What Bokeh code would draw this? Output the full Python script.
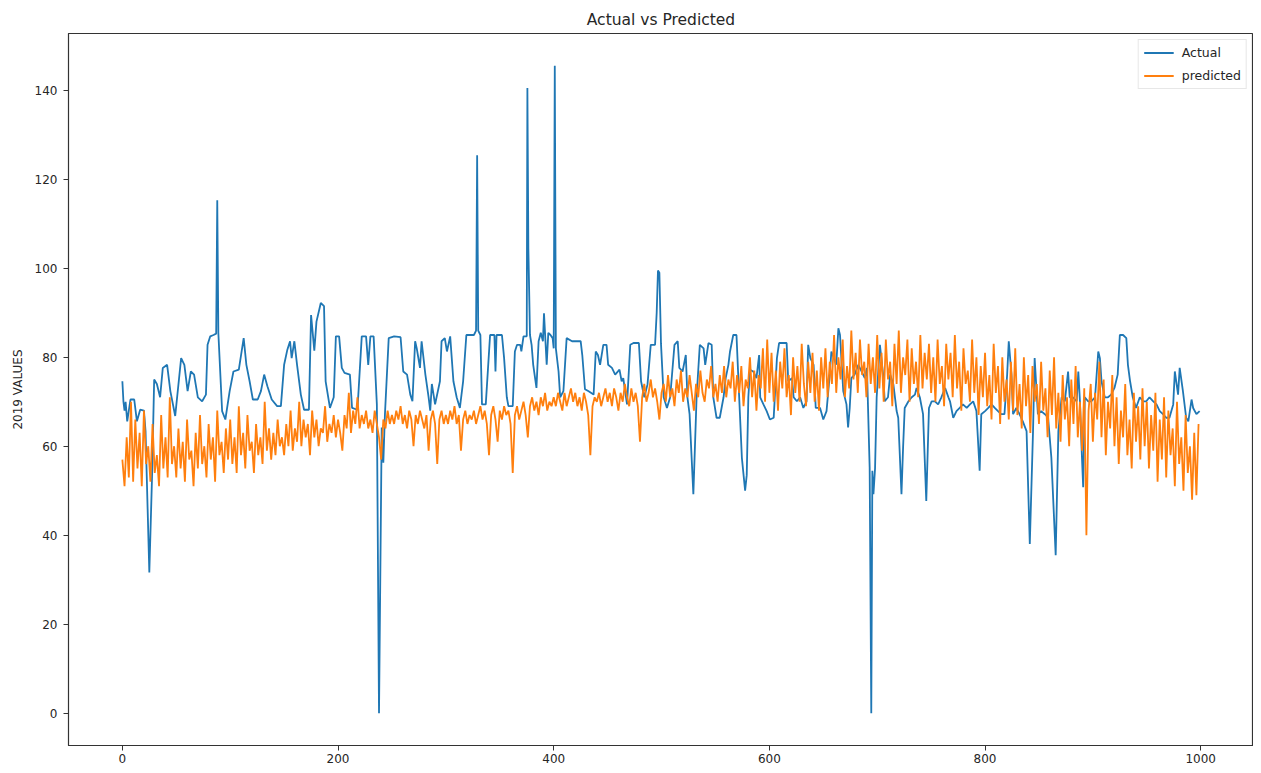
from bokeh.plotting import figure
from bokeh.models import Range1d, FixedTicker, Legend, LegendItem
from bokeh.embed import file_html
from bokeh.resources import INLINE

TITLE = "Actual vs Predicted"
Y_LABEL = "2019 VALUES"
SERIES_NAMES = ["Actual", "predicted"]
X_TICKS = [0, 200, 400, 600, 800, 1000]
Y_TICKS = [0, 20, 40, 60, 80, 100, 120, 140]

# Actual series: (index, value) vertices
actual = [
    (0, 74.6), (1, 70), (2, 68), (3, 70), (4.5, 65.6), (7.5, 70.5), (11, 70.5), (13.5, 65.6),
    (16.5, 68.2), (20, 68), (21.5, 63.4), (25, 31.6), (27.5, 53), (29.5, 75), (32, 74), (35, 71),
    (37.5, 77.6), (41.5, 78.3), (44.5, 72.4), (49, 66.8), (54.5, 79.8), (57.5, 78.3), (60.5, 72.4),
    (63.5, 76.8), (66.5, 76.1), (70, 71), (74, 70.1), (77.5, 71.6), (79, 82.8), (81.5, 84.7),
    (84.5, 85), (87, 85.3), (88, 115.3), (89, 85.5), (92.5, 67.9), (95.5, 66), (99.5, 72.4),
    (103, 76.8), (108, 77.2), (112.5, 84.3), (115, 78.3), (118, 74.6), (121, 70.5), (125.5, 70.5),
    (128.5, 72.4), (131.5, 76.1), (134.5, 73.5), (138.5, 70.5), (143.5, 69), (147, 69), (150, 78.3),
    (153, 81.7), (155.5, 83.6), (157, 79.8), (159.5, 83.6), (162, 78.3), (165.5, 71.6), (168.5, 68.2),
    (173, 68.2), (175, 89.5), (178, 81.5), (180, 88), (184, 92.2), (187, 91.5), (188.5, 74.6),
    (192.5, 68.6), (196, 71), (198, 84.7), (201, 84.7), (203.5, 77.6), (206, 76.5), (211, 76.1),
    (213, 68.6), (218, 68.2), (222, 84.7), (226, 84.7), (228, 78.3), (230, 84.7), (233, 84.7),
    (236, 69.4), (238, 0), (240.5, 64.2), (242, 56.3), (243.5, 67.2), (247, 84.3), (252, 84.7),
    (258, 84.5), (260.5, 76.8), (264, 76.1), (267, 71.6), (269, 70.1), (271.5, 83.6), (273, 82),
    (276, 77.6), (277.5, 83.6), (281, 76.1), (284, 71), (285.5, 68), (287, 74), (290, 69.4),
    (294.5, 74.6), (296, 83.6), (299, 84.3), (301, 81.3), (304, 84.7), (307, 74.6), (310, 71),
    (313, 68.6), (316, 74.6), (319, 85), (326, 85), (328, 86), (329, 125.4), (330, 86), (332, 85),
    (333.5, 69.4), (337, 69.4), (341, 85), (345, 85), (346, 76.8), (347, 85), (352, 85),
    (354, 79.8), (356.5, 71), (358, 69), (362, 69), (364, 81.3), (366, 82.8), (369, 82.8),
    (370, 81.3), (372, 84.7), (375, 84.7), (375.6, 140.5), (376.5, 104.5), (378, 85), (379.5, 82.8),
    (381, 78.3), (384, 73.1), (386, 83.6), (388, 85.5), (390, 83.6), (391, 89.9), (393.5, 78.3),
    (395, 85.5), (397, 85), (399, 84.3), (400, 82), (401, 145.5), (402, 82), (404.5, 76.8),
    (406, 71), (409, 72.4), (412, 84.3), (417, 83.6), (425, 83.6), (426.5, 80.5), (429, 72.8),
    (432, 72.4), (437, 71.6), (439, 81.3), (441, 80.5), (443, 78.3), (446, 82.8), (449, 82.8),
    (450.5, 78.3), (454, 77.6), (457, 76.1), (461, 77.2), (463, 74.6), (464.5, 75.3), (468, 69.4),
    (471, 82.8), (474, 83.2), (479, 83.2), (481, 74.6), (484, 71), (487, 73.9), (490, 82.8),
    (494, 82.8), (495.5, 90), (496.7, 99.5), (498, 99), (499.5, 83), (502, 71), (505, 68.6),
    (508, 71), (512, 82.8), (515, 83.6), (516.5, 77.6), (519.5, 76.8), (522.5, 80.5), (524, 71),
    (526, 67.2), (529.5, 49.2), (532.5, 71), (535.5, 82.8), (539, 82), (540.5, 78.3),
    (543.5, 83.2), (546.5, 82.8), (548, 71), (551, 66.4), (554, 66.4), (557.5, 71), (559.5, 75.3),
    (562, 78.3), (563.5, 81.3), (566.5, 85), (569.5, 85), (572, 71), (574.5, 57.4), (577.5, 50),
    (579, 53.5), (580.5, 71), (582, 77.2), (585, 76.8), (588, 75.3), (590.5, 80.5), (591.5, 71),
    (594.5, 69.4), (597.5, 67.9), (600.5, 66), (604, 66.4), (607, 79.8), (609, 83.2), (616, 83.2),
    (617.5, 74.6), (621, 75.3), (622.5, 71), (625.5, 70.1), (628.5, 71), (631.5, 68.6),
    (634.5, 70.1), (636, 82.8), (638, 79.8), (641, 78.3), (643, 68.6), (647, 68.6), (650, 66),
    (653, 67.9), (656, 76.1), (657.5, 81.3), (662, 78.3), (664, 86.5), (665.5, 85), (668.5, 72.4),
    (671.5, 69.4), (673, 64.2), (674.5, 68.6), (676, 75.3), (679, 76.1), (682.5, 78.3),
    (685.5, 76.8), (688.5, 75.3), (690.5, 77.6), (693, 55.2), (694.5, 0), (695.5, 54.5),
    (696.5, 49.2), (698, 55), (699.5, 71), (702.5, 82.8), (705.5, 76.1), (707, 70.1), (710, 71),
    (712, 76.1), (715, 73.9), (718, 67.9), (719.5, 66.4), (722.5, 49.2), (724, 59.7),
    (725.5, 68.6), (729, 70.1), (732, 71), (735, 71.6), (736.5, 73.1), (739.5, 71), (742.5, 67.2),
    (745.5, 47.7), (748, 68.6), (750.5, 70.1), (753.5, 70.1), (756.5, 69.4), (759.5, 71),
    (763, 73.1), (766, 71), (767.5, 70.1), (770.5, 66.4), (773.5, 67.9), (776.5, 68.6),
    (779.5, 69.4), (783, 68.6), (786, 69.4), (789, 70.1), (792, 67.9), (795, 54.5), (796.5, 67.2),
    (800, 67.9), (803, 68.6), (806, 69.4), (809, 68.6), (812, 67.9), (815, 67.2), (818, 67.2),
    (820.5, 76.1), (822, 83.6), (824.5, 76.1), (826, 67.2), (829, 68.6), (832, 67.2), (835, 65.6),
    (838.5, 63.4), (841.5, 38), (844.5, 63.4), (846, 79.8), (849, 67.2), (852, 67.9),
    (855.5, 67.2), (858.5, 66.4), (861.5, 57.4), (865.5, 35.5), (868, 63.4), (871, 71),
    (874, 70.1), (877, 76.8), (878.5, 71), (881.5, 71), (885, 70.1), (886.5, 76.8), (888, 70.1),
    (889.5, 59.7), (891, 50.8), (892.5, 71), (895.5, 70.1), (898.5, 70.1), (902, 71), (905, 81.3),
    (906.5, 79.8), (908, 74.6), (911, 71), (914, 71), (917, 71.6), (920, 73.1), (923, 76.1),
    (925, 85), (928, 85), (931, 84.3), (932.5, 78.3), (934.5, 74.6), (937, 71), (940, 68.6),
    (943.5, 71), (946.5, 70.1), (949.5, 70.1), (952.5, 71), (956, 70.1), (959, 69.4), (962, 67.9),
    (965, 67.2), (968, 66.4), (971, 66.4), (974.5, 69.4), (976, 76.8), (979, 71.6), (980.5, 77.6),
    (983.5, 72.4), (986.5, 66.4), (988.5, 65.6), (991.5, 70.5), (993, 68.6), (996, 67.2),
    (999, 67.9),
]
actual_x = [a for a, _ in actual]
actual_y = [b for _, b in actual]

# Predicted series: every second index
pred_x = list(range(0, 1000, 2))
pred_y = [
    57, 51, 62, 53, 70, 52, 66, 55, 63, 51, 68, 56, 60, 52, 65, 54, 58, 51, 67, 55, 62, 53, 71, 56, 60,
    53, 64, 55, 61, 52, 66, 57, 59, 51, 63, 55, 67, 56, 60, 53, 65, 57, 62, 52, 68, 58, 61, 54, 64, 57,
    66, 56, 62, 54, 69, 58, 63, 55, 67, 59, 61, 54, 65, 58, 62, 56, 70, 59, 64, 57, 63, 58, 66, 60, 62,
    58, 65, 60, 68, 59, 64, 61, 70, 60, 66, 62, 65, 58, 68, 62, 66, 60, 64, 63, 69, 61, 65, 63, 67, 62,
    66, 63, 59, 67, 64, 72, 63, 68, 65, 71, 64, 67, 65, 68, 64, 66, 63, 68, 65, 62, 57, 66, 64, 68, 65,
    67, 65, 68, 66, 69, 65, 67, 64, 68, 66, 60, 67, 65, 68, 66, 64, 67, 59, 66, 68, 65, 56, 66, 68, 65,
    67, 65, 68, 66, 69, 65, 67, 59, 66, 68, 65, 67, 66, 68, 65, 67, 69, 66, 68, 65, 58, 67, 69, 66, 61,
    68, 66, 69, 67, 68, 65, 54, 67, 69, 66, 68, 70, 67, 62, 69, 71, 68, 70, 67, 71, 69, 72, 68, 70, 69,
    71, 69, 72, 70, 68, 72, 69, 71, 73, 70, 72, 69, 71, 68, 72, 70, 67, 58, 69, 71, 70, 72, 69, 71, 73,
    70, 72, 69, 73, 71, 68, 72, 70, 74, 71, 69, 73, 70, 72, 69, 61, 71, 74, 70, 72, 75, 71, 73, 70, 66,
    72, 74, 70, 76, 71, 73, 69, 75, 72, 77, 70, 73, 71, 76, 72, 68, 74, 71, 77, 72, 70, 75, 73, 78, 71,
    74, 70, 76, 72, 78, 71, 75, 73, 79, 70, 76, 72, 78, 69, 75, 73, 80, 71, 77, 68, 76, 73, 82, 70, 84,
    72, 81, 70, 77, 68, 79, 73, 82, 71, 76, 67, 80, 72, 78, 70, 83, 74, 69, 79, 72, 81, 70, 77, 68, 80,
    73, 82, 71, 79, 74, 85, 72, 80, 75, 84, 71, 78, 73, 86, 75, 81, 72, 84, 76, 79, 71, 83, 74, 80, 72,
    85, 73, 81, 70, 84, 75, 79, 69, 83, 74, 86, 72, 80, 76, 84, 70, 82, 74, 79, 71, 85, 73, 81, 75, 83,
    72, 80, 70, 84, 74, 78, 69, 83, 75, 81, 71, 85, 73, 79, 68, 82, 74, 77, 70, 84, 72, 80, 67, 78, 71,
    81, 69, 76, 66, 83, 72, 78, 65, 80, 70, 75, 66, 79, 68, 82, 67, 74, 64, 80, 69, 76, 63, 78, 70, 74,
    65, 79, 68, 73, 62, 77, 67, 80, 64, 72, 61, 76, 66, 71, 60, 75, 65, 78, 62, 70, 59, 73, 40, 68, 74,
    61, 72, 66, 79, 62, 75, 58, 70, 64, 76, 60, 71, 56, 68, 62, 74, 58, 66, 55, 72, 61, 69, 57, 73, 60,
    70, 55, 67, 59, 72, 52, 66, 57, 71, 53, 68, 58, 64, 51, 70, 56, 62, 50, 67, 54, 60, 48, 63, 49, 65,
]

FONT = "DejaVu Sans"
TEXT_COLOR = "#262626"

p = figure(
    width=1253, height=765,
    output_backend="svg", toolbar_location=None,
    x_range=Range1d(-49.95, 1048.95), y_range=Range1d(-7.27, 152.77),
    min_border_left=68, min_border_right=0, min_border_top=33, min_border_bottom=20,
    background_fill_color="white", border_fill_color="white",
)
p.title.text = TITLE
p.title.align = "center"
p.title.text_font = FONT
p.title.text_font_size = "15.5px"
p.title.text_font_style = "normal"
p.title.text_color = TEXT_COLOR
p.title.standoff = 9

p.grid.visible = False
p.outline_line_color = "#333333"
p.outline_line_width = 1.2

for ax in (p.xaxis[0], p.yaxis[0]):
    ax.major_label_text_font = FONT
    ax.major_label_text_font_size = "12px"
    ax.major_label_text_color = TEXT_COLOR
    ax.major_tick_out = 5
    ax.major_tick_in = 0
    ax.minor_tick_out = 0
    ax.minor_tick_in = 0
    ax.major_tick_line_color = "#333333"
    ax.axis_line_color = "#333333"

p.xaxis.major_label_standoff = 3
p.yaxis.major_label_standoff = 6
p.xaxis.ticker = FixedTicker(ticks=X_TICKS)
p.yaxis.ticker = FixedTicker(ticks=Y_TICKS)
p.yaxis.axis_label = Y_LABEL
p.yaxis.axis_label_text_font = FONT
p.yaxis.axis_label_text_font_size = "12px"
p.yaxis.axis_label_text_font_style = "normal"
p.yaxis.axis_label_text_color = TEXT_COLOR
p.yaxis.axis_label_standoff = 7

r_act = p.line(actual_x, actual_y, line_color="#1f77b4", line_width=1.8)
r_pred = p.line(pred_x, pred_y, line_color="#ff7f0e", line_width=1.8)

legend = Legend(
    items=[LegendItem(label=SERIES_NAMES[0], renderers=[r_act]),
           LegendItem(label=SERIES_NAMES[1], renderers=[r_pred])],
    location="top_right",
    margin=6, padding=5, spacing=8,
    glyph_width=30, glyph_height=15, label_standoff=8,
    label_text_font=FONT, label_text_font_size="12.5px", label_text_color=TEXT_COLOR,
    border_line_color="#d0d0d0", border_line_width=1,
    background_fill_alpha=0.85,
)
p.add_layout(legend)

open("out.html", "w").write(file_html(p, INLINE))
